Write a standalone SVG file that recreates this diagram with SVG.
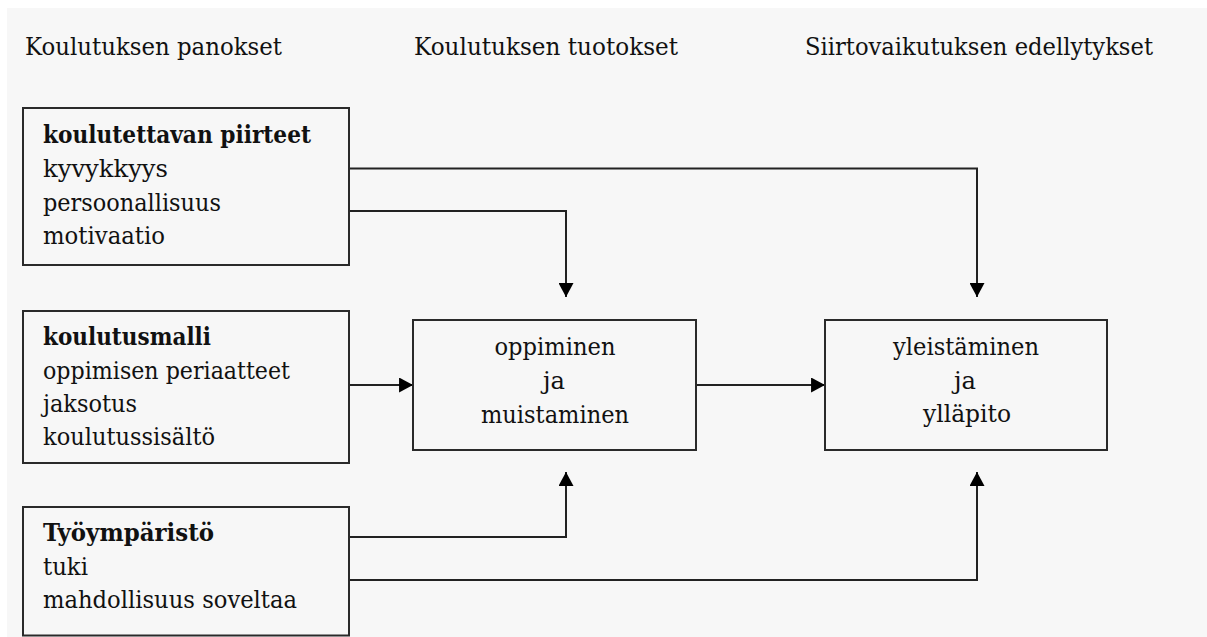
<svg xmlns="http://www.w3.org/2000/svg" width="1207" height="637" viewBox="0 0 1207 637">
  <style>
    text { font-family: "DejaVu Serif", "Liberation Serif", serif; font-size: 25px; fill: #111; }
    .b { font-weight: bold; }
    .c { text-anchor: middle; }
    .box { fill: none; stroke: #2a2a2a; stroke-width: 2; }
    .link { fill: none; stroke: #222; stroke-width: 2; marker-end: url(#arrow); }
  </style>
  <defs>
    <marker id="arrow" markerUnits="userSpaceOnUse" markerWidth="15" markerHeight="15" refX="13" refY="7" orient="auto" viewBox="0 0 14 14">
      <path d="M0,0 L13,7 L0,14 z" fill="#000"/>
    </marker>
  </defs>

  <!-- page background -->
  <rect x="7" y="8" width="1200" height="629" fill="#f7f7f7"/>

  <!-- column headings -->
  <g id="headings">
    <text x="25" y="55" textLength="257" lengthAdjust="spacingAndGlyphs">Koulutuksen panokset</text>
    <text x="414" y="55" textLength="264" lengthAdjust="spacingAndGlyphs">Koulutuksen tuotokset</text>
    <text x="805" y="55" textLength="348" lengthAdjust="spacingAndGlyphs">Siirtovaikutuksen edellytykset</text>
  </g>

  <!-- connectors -->
  <g id="connectors">
    <path class="link" d="M349,168.5 H977 V297"/>
    <path class="link" d="M349,211 H566 V297"/>
    <path class="link" d="M349,385 H413"/>
    <path class="link" d="M696,385 H825"/>
    <path class="link" d="M349,537 H566 V472"/>
    <path class="link" d="M349,580 H977 V472"/>
  </g>

  <g id="trainee">
    <rect class="box" x="23" y="108" width="326" height="157"/>
    <text class="b" x="43" y="143" textLength="268" lengthAdjust="spacingAndGlyphs">koulutettavan piirteet</text>
    <text x="43" y="177" textLength="125" lengthAdjust="spacingAndGlyphs">kyvykkyys</text>
    <text x="43" y="211" textLength="178" lengthAdjust="spacingAndGlyphs">persoonallisuus</text>
    <text x="43" y="244" textLength="122" lengthAdjust="spacingAndGlyphs">motivaatio</text>
  </g>

  <g id="training-model">
    <rect class="box" x="23" y="311" width="326" height="152"/>
    <text class="b" x="43" y="345" textLength="168" lengthAdjust="spacingAndGlyphs">koulutusmalli</text>
    <text x="43" y="378.5" textLength="247" lengthAdjust="spacingAndGlyphs">oppimisen periaatteet</text>
    <text x="43" y="412" textLength="94" lengthAdjust="spacingAndGlyphs">jaksotus</text>
    <text x="43" y="445" textLength="172" lengthAdjust="spacingAndGlyphs">koulutussisältö</text>
  </g>

  <g id="work-environment">
    <rect class="box" x="23" y="507" width="326" height="128.5"/>
    <text class="b" x="43" y="541" textLength="171" lengthAdjust="spacingAndGlyphs">Työympäristö</text>
    <text x="43" y="574.5" textLength="45" lengthAdjust="spacingAndGlyphs">tuki</text>
    <text x="43" y="608" textLength="254" lengthAdjust="spacingAndGlyphs">mahdollisuus soveltaa</text>
  </g>

  <g id="learning">
    <rect class="box" x="413" y="320" width="283" height="130"/>
    <text class="c" x="555" y="355" textLength="121" lengthAdjust="spacingAndGlyphs">oppiminen</text>
    <text class="c" x="554" y="388.5" textLength="22" lengthAdjust="spacingAndGlyphs">ja</text>
    <text class="c" x="555" y="423" textLength="148" lengthAdjust="spacingAndGlyphs">muistaminen</text>
  </g>

  <g id="generalisation">
    <rect class="box" x="825" y="320" width="282" height="130"/>
    <text class="c" x="966" y="354.5" textLength="146" lengthAdjust="spacingAndGlyphs">yleistäminen</text>
    <text class="c" x="965" y="388.5" textLength="22" lengthAdjust="spacingAndGlyphs">ja</text>
    <text class="c" x="967" y="422" textLength="88" lengthAdjust="spacingAndGlyphs">ylläpito</text>
  </g>
</svg>
